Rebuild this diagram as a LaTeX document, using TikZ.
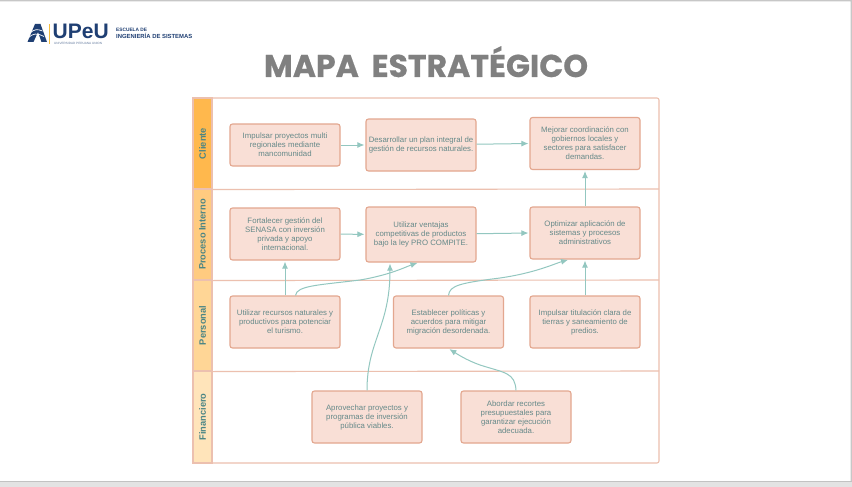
\documentclass[tikz,border=0pt]{standalone}
\usepackage{fontspec}
\usepackage{tikz}
\usetikzlibrary{arrows.meta}
\setmainfont{Liberation Sans}
\newfontfamily\titlefont[BoldFeatures={FakeBold=0.6},WordSpace=1.9]{Poppins}
\definecolor{boxfill}{HTML}{f9dfd6}
\definecolor{boxline}{HTML}{e3a78f}
\definecolor{laneline}{HTML}{ecc0af}
\definecolor{boxtext}{HTML}{658989}
\definecolor{lanetext}{HTML}{4a8585}
\definecolor{arrowc}{HTML}{93c7c0}
\definecolor{navy}{HTML}{1f3f73}
\definecolor{gold}{HTML}{f5bd3f}
\definecolor{laneA}{HTML}{ffb84d}
\definecolor{laneB}{HTML}{ffcb80}
\definecolor{laneC}{HTML}{ffd696}
\definecolor{laneD}{HTML}{ffe4ba}
\tikzset{
    strat/.style={draw=boxline, fill=boxfill, line width=1.1pt, rounded corners=2.5pt, align=center, text=boxtext, font=\fontsize{7.8}{9}\selectfont, inner sep=0pt, minimum width=110pt, minimum height=52pt},
    lanehead/.style={rotate=90, draw=laneline, line width=1.1pt, minimum width=91pt, minimum height=19pt, inner sep=0pt, text=lanetext, font=\bfseries\fontsize{9.3}{11}\selectfont},
    link/.style={draw=arrowc, line width=1pt, shorten >=1pt, -{Latex[length=7pt,width=6pt]}},
}
\begin{document}
\begin{tikzpicture}[x=1pt,y=-1pt]
    \useasboundingbox (0,0) rectangle (852,487);
    \fill[white] (0,0) rectangle (852,487);
    \fill[black!22] (0,0) rectangle (852,1.5) (850.5,0) rectangle (852,481);
    \fill[black!11] (0,481) rectangle (852,487);
    \fill[black!24] (0,480.5) rectangle (852,481.5);
    % logo
    \fill[navy] (27.5,42) -- (35,24) -- (40.5,24) -- (47,42) -- (41.5,42) -- (38,32) -- (33.5,42) -- cycle;
    \draw[white, line width=.7pt] (28,38) .. controls (33,33) and (37,33) .. (44,36.5) (30,33) .. controls (34,29) and (38,29) .. (42.5,31);
    \fill[gold] (48.5,24) rectangle (49.7,44);
    \node[anchor=west, inner sep=0pt, text=navy, font=\bfseries\fontsize{21}{21}\selectfont] (brand) at (52.5,31.5) {UPeU};
    \node[anchor=west, inner sep=0pt, text=navy!70, font=\fontsize{3.1}{3.5}\selectfont] (brandsub) at (54,43) {UNIVERSIDAD PERUANA UNION};
    \node[anchor=west, inner sep=0pt, text=navy, align=left, font=\bfseries\fontsize{5.9}{6.5}\selectfont] (school) at (116,33.5) {{\fontsize{4.8}{6.5}\selectfont ESCUELA DE}\\INGENIERÍA DE SISTEMAS};
    % title
    \node[anchor=base, text=black!50, inner sep=0pt, font=\titlefont\bfseries\fontsize{31.5}{32}\selectfont] (title) at (426,77) {MAPA ESTRATÉGICO};
    % lanes
    \node[lanehead, fill=laneA] at (202.5,143.5) (client) {Cliente};
    \node[lanehead, fill=laneB] at (202.5,234.5) (process) {Proceso Interno};
    \node[lanehead, fill=laneC] at (202.5,325.5) (staff) {Personal};
    \node[lanehead, fill=laneD, minimum width=92pt] at (202.5,417) (finance) {Financiero};
    \draw[laneline, line width=1.1pt] (client.south west) -- (659,189) (process.south west) -- (659,280) (staff.south west) -- (659,371);
    \draw[laneline, line width=1.1pt, rounded corners=2pt] (193,98) rectangle (659,463);
    %
    \node[strat, minimum height=42pt] at (285,145) (b1) {Impulsar proyectos multi\\regionales mediante\\mancomunidad};
    \node[strat] at (421,145) (b2) {Desarrollar un plan integral de\\gestión de recursos naturales.};
    \node[strat] at (585,143.5) (b3) {Mejorar coordinación con\\gobiernos locales y\\sectores para satisfacer\\demandas.};
    %
    \node[strat] at (285,234) (b4) {Fortalecer gestión del\\SENASA con inversión\\privada y apoyo\\internacional.};
    \node[strat, minimum height=55pt] at (421,234.5) (b5) {Utilizar ventajas\\competitivas de productos\\bajo la ley PRO COMPITE.};
    \node[strat] at (585,233) (b6) {Optimizar aplicación de\\sistemas y procesos\\administrativos};
    %
    \node[strat] at (285,322) (b7) {Utilizar recursos naturales y\\productivos para potenciar\\el turismo.};
    \node[strat] at (448.5,322) (b8) {Establecer políticas y\\acuerdos para mitigar\\migración desordenada.};
    \node[strat] at (585,322) (b9) {Impulsar titulación clara de\\tierras y saneamiento de\\predios.};
    %
    \node[strat] at (367,417) (b10) {Aprovechar proyectos y\\programas de inversión\\pública viables.};
    \node[strat] at (516,417) (b11) {Abordar recortes\\presupuestales para\\garantizar ejecución\\adecuada.};
    % connectors
    \draw[link] (b1) -- (b2);
    \draw[link] (b2) -- (b3.west);
    \draw[link] (b4) -- (b5);
    \draw[link] (b5) -- (b6.west);
    \draw[link] (b6) -- (b3);
    \draw[link] (b7) -- (b4);
    \draw[link] (b9) -- (b6);
    \draw[link] ([xshift=10.5pt]b7.north) .. controls +(1,-10) and +(-40,5) .. (360,280) .. controls +(30,-5) and +(-12,4) .. ([xshift=-2.5pt]b5.south);
    \draw[link] (b10.north) .. controls +(0,-50) and +(0,65) .. ([xshift=-31pt]b5.south);
    \draw[link] (b8.north) .. controls +(1,-10) and +(-40,5) .. (500,278) .. controls +(35,-5) and +(-14,4) .. ([xshift=-16pt]b6.south);
    \draw[link] (b11.north) .. controls +(-1,-18) and +(25,8) .. (480,365) .. controls +(-14,-5) and +(8,5) .. (b8.south);
\end{tikzpicture}
\end{document}
